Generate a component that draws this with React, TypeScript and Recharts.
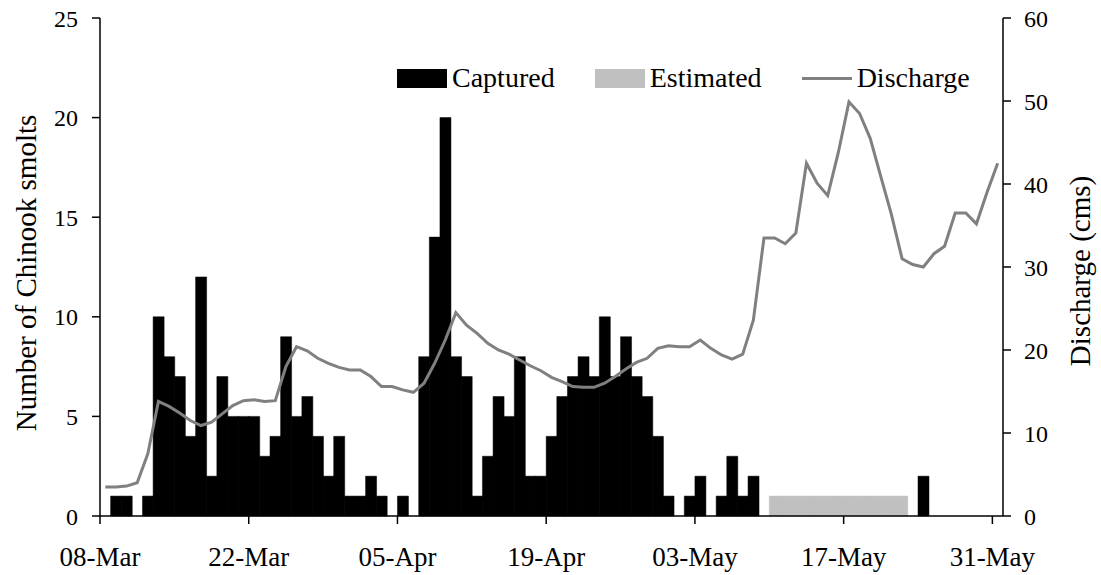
import React from 'react';
import { ComposedChart, Bar, Line, XAxis, YAxis, Legend } from 'recharts';

const FONT = '"Liberation Serif", "Times New Roman", serif';

// Season: one category per day, 08-Mar .. 31-May
const MONTH_NAMES = ['Mar', 'Apr', 'May'];
const MONTH_LENGTHS = [31, 30, 31];
const FIRST_DAY = 8;

const buildDates = (): string[] => {
  const out: string[] = [];
  MONTH_NAMES.forEach((m, mi) => {
    const start = mi === 0 ? FIRST_DAY : 1;
    for (let d = start; d <= MONTH_LENGTHS[mi]; d++) {
      out.push(`${d < 10 ? '0' + d : d}-${m}`);
    }
  });
  return out;
};
const dates = buildDates();

const tickLabels = ['08-Mar', '22-Mar', '05-Apr', '19-Apr', '03-May', '17-May', '31-May'];
const leftTicks = [0, 5, 10, 15, 20, 25];
const rightTicks = [0, 10, 20, 30, 40, 50, 60];
const legendOrder = ['Captured', 'Estimated', 'Discharge'];

const captured = [
  0, 1, 1, 0, 1, 10, 8, 7, 4, 12,
  2, 7, 5, 5, 5, 3, 4, 9, 5, 6,
  4, 2, 4, 1, 1, 2, 1, 0, 1, 0,
  8, 14, 20, 8, 7, 1, 3, 6, 5, 8,
  2, 2, 4, 6, 7, 8, 7, 10, 7, 9,
  7, 6, 4, 1, 0, 1, 2, 0, 1, 3,
  1, 2, 0, 0, 0, 0, 0, 0, 0, 0,
  0, 0, 0, 0, 0, 0, 0, 2, 0, 0,
  0, 0, 0, 0, 0,
];

const estimated = [
  0, 0, 0, 0, 0, 0, 0, 0, 0, 0,
  0, 0, 0, 0, 0, 0, 0, 0, 0, 0,
  0, 0, 0, 0, 0, 0, 0, 0, 0, 0,
  0, 0, 0, 0, 0, 0, 0, 0, 0, 0,
  0, 0, 0, 0, 0, 0, 0, 0, 0, 0,
  0, 0, 0, 0, 0, 0, 0, 0, 0, 0,
  0, 0, 0, 1, 1, 1, 1, 1, 1, 1,
  1, 1, 1, 1, 1, 1, 0, 0, 0, 0,
  0, 0, 0, 0, 0,
];

const discharge = [
  3.5, 3.5, 3.6, 4.0, 7.5, 13.8, 13.2, 12.4, 11.5, 10.9,
  11.3, 12.3, 13.3, 13.9, 14.0, 13.8, 13.9, 18.0, 20.4, 19.9,
  19.0, 18.4, 17.9, 17.6, 17.6, 16.8, 15.6, 15.6, 15.2, 14.9,
  16.0, 18.4, 21.2, 24.5, 23.0, 22.0, 20.8, 20.0, 19.5, 18.8,
  18.1, 17.5, 16.7, 16.2, 15.6, 15.5, 15.5, 16.0, 16.8, 17.7,
  18.5, 19.0, 20.2, 20.5, 20.4, 20.4, 21.2, 20.2, 19.4, 18.9,
  19.5, 23.6, 33.5, 33.5, 32.8, 34.1, 42.5, 40.1, 38.6, 43.8,
  49.9, 48.5, 45.5, 40.9, 36.3, 31.0, 30.3, 30.0, 31.6, 32.5,
  36.5, 36.5, 35.2, 39.0, 42.5,
];

const data = dates.map((date, i) => ({
  date,
  captured: captured[i],
  estimated: estimated[i] || null,
  discharge: discharge[i],
}));

const TICK_SIZE = 8;
const X_TICK_MARGIN = 23;

const XTick = (props: any) => {
  const { x, y, payload } = props;
  const half = payload && typeof payload.offset === 'number' ? payload.offset : 0;
  const bx = x - half;
  const axisY = y - X_TICK_MARGIN - TICK_SIZE;
  return (
    <g>
      <line x1={bx} x2={bx} y1={axisY} y2={axisY + TICK_SIZE} stroke="#000" strokeWidth={1.5} />
      <text x={bx} y={y} dy="0.71em" textAnchor="middle" fontSize={27} fontFamily={FONT} fill="#000">
        {payload.value}
      </text>
    </g>
  );
};

const LegendContent = (props: any) => {
  const payload = [...(props.payload || [])].sort(
    (a: any, b: any) => legendOrder.indexOf(a.value) - legendOrder.indexOf(b.value)
  );
  return (
    <div style={{ display: 'flex', alignItems: 'center', fontFamily: FONT, fontSize: 28, color: '#000', lineHeight: '32px' }}>
      {payload.map((e: any, i: number) => (
        <div key={i} style={{ display: 'flex', alignItems: 'center', marginRight: 40 }}>
          {e.type === 'line' ? (
            <svg width={50} height={19} style={{ marginRight: 5 }}>
              <line x1={0} x2={50} y1={9.5} y2={9.5} stroke={e.color} strokeWidth={3} />
            </svg>
          ) : (
            <span style={{ display: 'inline-block', width: 50, height: 19, background: e.color, marginRight: 5 }} />
          )}
          <span>{e.value}</span>
        </div>
      ))}
    </div>
  );
};

const leftTitle = (p: any) => {
  const vb = p.viewBox || {};
  const cx = vb.x + 26;
  const cy = vb.y + vb.height / 2 + 6;
  return (
    <text x={cx} y={cy} transform={`rotate(-90, ${cx}, ${cy})`} textAnchor="middle" dominantBaseline="central"
      fontSize={29} fontFamily={FONT} fill="#000">
      Number of Chinook smolts
    </text>
  );
};

const rightTitle = (p: any) => {
  const vb = p.viewBox || {};
  const cx = vb.x + 77;
  const cy = vb.y + vb.height / 2 + 4;
  return (
    <text x={cx} y={cy} transform={`rotate(-90, ${cx}, ${cy})`} textAnchor="middle" dominantBaseline="central"
      fontSize={29} fontFamily={FONT} fill="#000">
      Discharge (cms)
    </text>
  );
};

export default function App() {
  return (
    <div style={{ position: 'absolute', left: 0, top: 0, width: 1101, height: 575, background: '#fff', fontFamily: FONT }}>
      <ComposedChart
        width={1101}
        height={575}
        data={data}
        margin={{ top: 18, right: 0, bottom: 0, left: 0 }}
        barCategoryGap={0}
        barGap={0}
      >
        <XAxis
          dataKey="date"
          type="category"
          ticks={tickLabels}
          interval={0}
          height={59}
          tickLine={false}
          tickSize={TICK_SIZE}
          tickMargin={X_TICK_MARGIN}
          tick={<XTick />}
          axisLine={{ stroke: '#000', strokeWidth: 1.5 }}
        />
        <YAxis
          yAxisId="left"
          orientation="left"
          width={100}
          domain={[0, 25]}
          ticks={leftTicks}
          interval={0}
          tickSize={TICK_SIZE}
          tickMargin={14}
          tick={{ fill: '#000', fontSize: 24, fontFamily: FONT }}
          tickLine={{ stroke: '#000', strokeWidth: 1.5 }}
          axisLine={{ stroke: '#000', strokeWidth: 1.5 }}
          label={{ content: leftTitle }}
        />
        <YAxis
          yAxisId="right"
          orientation="right"
          width={98}
          domain={[0, 60]}
          ticks={rightTicks}
          interval={0}
          tickSize={TICK_SIZE}
          tickMargin={13}
          tick={{ fill: '#000', fontSize: 24, fontFamily: FONT }}
          tickLine={{ stroke: '#000', strokeWidth: 1.5 }}
          axisLine={{ stroke: '#000', strokeWidth: 1.5 }}
          label={{ content: rightTitle }}
        />
        <Legend
          layout="horizontal"
          verticalAlign="middle"
          align="center"
          content={<LegendContent />}
          wrapperStyle={{ position: 'absolute', top: 62, left: 397, width: 660 }}
        />
        <Bar yAxisId="left" dataKey="captured" name="Captured" stackId="s" fill="#000" stroke="#000" strokeWidth={0.5} isAnimationActive={false} />
        <Bar yAxisId="left" dataKey="estimated" name="Estimated" stackId="s" fill="#c0c0c0" stroke="#c0c0c0" strokeWidth={0.5} isAnimationActive={false} />
        <Line yAxisId="right" dataKey="discharge" name="Discharge" type="linear" stroke="#808080" strokeWidth={3} dot={false} activeDot={false} isAnimationActive={false} />
      </ComposedChart>
    </div>
  );
}
